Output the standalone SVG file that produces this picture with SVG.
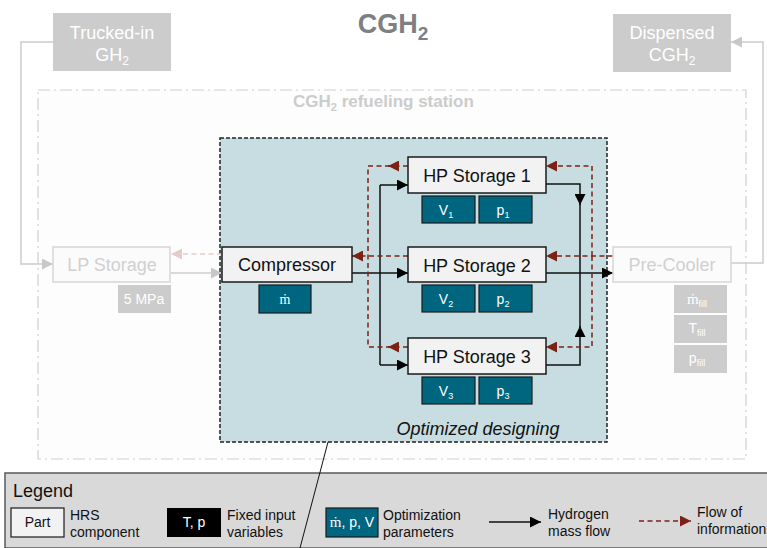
<svg xmlns="http://www.w3.org/2000/svg" width="767" height="548" viewBox="0 0 767 548">
  <style>
    text { font-family: "Liberation Sans", Arial, sans-serif; }
    .ext { fill: #cccccc; }
    .ext-t { fill: #ffffff; font-size: 18px; text-anchor: middle; }
    .ghost { fill: #fbfbfb; stroke: #d6d6d6; stroke-width: 1.5; }
    .ghost-t { fill: #d0d0d0; font-size: 18px; text-anchor: middle; }
    .part { fill: #f2f2f2; stroke: #1a1a1a; stroke-width: 1.5; }
    .part-t { fill: #111111; font-size: 18px; text-anchor: middle; }
    .opt { fill: #00667f; stroke: #1a1a1a; stroke-width: 1.2; }
    .opt-t { fill: #ffffff; font-size: 14px; text-anchor: middle; }
    .fix { fill: #cccccc; }
    .fix-t { fill: #ffffff; font-size: 14px; text-anchor: middle; }
    .mdot { font-family: "Liberation Serif", "Times New Roman", serif; }
    .flow { fill: none; stroke: #111111; stroke-width: 1.5; }
    .info { fill: none; stroke: #7b2215; stroke-width: 1.5; stroke-dasharray: 5 3.5; }
    .gray { fill: none; stroke: #cccccc; stroke-width: 1.5; }
    .pink { fill: none; stroke: #e3cdc9; stroke-width: 1.5; stroke-dasharray: 5 3.5; }
    .leg-t { fill: #111111; font-size: 14px; }
  </style>
  <defs>
    <marker id="ah-black" markerUnits="userSpaceOnUse" markerWidth="11" markerHeight="11" refX="11" refY="5.5" orient="auto">
      <path d="M0,0 L11,5.5 L0,11 z" fill="#000000"/>
    </marker>
    <marker id="ah-red" markerUnits="userSpaceOnUse" markerWidth="11" markerHeight="11" refX="11" refY="5.5" orient="auto">
      <path d="M0,0 L11,5.5 L0,11 z" fill="#7b2215"/>
    </marker>
    <marker id="ah-gray" markerUnits="userSpaceOnUse" markerWidth="11" markerHeight="11" refX="11" refY="5.5" orient="auto">
      <path d="M0,0 L11,5.5 L0,11 z" fill="#c8c8c8"/>
    </marker>
    <marker id="ah-pink" markerUnits="userSpaceOnUse" markerWidth="11" markerHeight="11" refX="11" refY="5.5" orient="auto">
      <path d="M0,0 L11,5.5 L0,11 z" fill="#e3cdc9"/>
    </marker>
  </defs>

  <rect x="0" y="0" width="767" height="548" fill="#ffffff"/>

  <!-- title -->
  <text x="393" y="33" font-size="27" font-weight="bold" fill="#7f7f7f" text-anchor="middle">CGH<tspan font-size="19" dy="7">2</tspan></text>

  <!-- refueling station boundary -->
  <g id="station">
    <rect x="38" y="90" width="708" height="369" fill="#fdfdfd" stroke="#cfcfcf" stroke-width="1.2" stroke-dasharray="12 4 2 4"/>
    <text x="293" y="107" font-size="17" font-weight="bold" fill="#cccccc">CGH<tspan font-size="11" dy="4">2</tspan><tspan dy="-4"> refueling station</tspan></text>
  </g>

  <!-- optimization scope -->
  <g id="optimized-scope">
    <rect x="220" y="138" width="387" height="304" fill="#c8dde2" stroke="#222222" stroke-width="1.5" stroke-dasharray="4 2"/>
    <text x="478" y="435" font-size="18" font-style="italic" fill="#111111" text-anchor="middle">Optimized designing</text>
  </g>

  <!-- connectors -->
  <g id="connectors">
    <!-- gray supply/dispense lines -->
    <path class="gray" d="M53,42 H21 V264 H53" marker-end="url(#ah-gray)"/>
    <path class="gray" d="M731,263 H763 V42 H731" marker-end="url(#ah-gray)"/>
    <path class="gray" d="M171,273 H222" marker-end="url(#ah-gray)"/>
    <path class="pink" d="M222,254 H171" marker-end="url(#ah-pink)"/>

    <!-- hydrogen mass flow -->
    <path class="flow" d="M352,273 H408" marker-end="url(#ah-black)"/>
    <path class="flow" d="M380,273 V185"/>
    <path class="flow" d="M380,273 V365"/>
    <path class="flow" d="M380,185 H408" marker-end="url(#ah-black)"/>
    <path class="flow" d="M380,365 H408" marker-end="url(#ah-black)"/>
    <path class="flow" d="M546,184 H580 V205" marker-end="url(#ah-black)"/>
    <path class="flow" d="M580,200 V273"/>
    <path class="flow" d="M546,365 H580 V326" marker-end="url(#ah-black)"/>
    <path class="flow" d="M580,330 V273"/>
    <path class="flow" d="M546,273 H613" marker-end="url(#ah-black)"/>

    <!-- information flow -->
    <path class="info" d="M613,256 H546" marker-end="url(#ah-red)"/>
    <path class="info" d="M592,256 V166 H546" marker-end="url(#ah-red)"/>
    <path class="info" d="M592,256 V347 H546" marker-end="url(#ah-red)"/>
    <path class="info" d="M408,256 H352" marker-end="url(#ah-red)"/>
    <path class="info" d="M408,166 H388" marker-end="url(#ah-red)"/>
    <path class="info" d="M390,166 H368 V347 H390"/>
    <path class="info" d="M408,347 H388" marker-end="url(#ah-red)"/>
  </g>

  <!-- external boxes -->
  <g id="trucked-in">
    <rect class="ext" x="53" y="13" width="118" height="58"/>
    <text class="ext-t" x="112" y="39">Trucked-in</text>
    <text class="ext-t" x="112" y="61">GH<tspan font-size="12" dy="4">2</tspan></text>
  </g>
  <g id="dispensed">
    <rect class="ext" x="613" y="14" width="118" height="58"/>
    <text class="ext-t" x="672" y="39">Dispensed</text>
    <text class="ext-t" x="672" y="61">CGH<tspan font-size="12" dy="4">2</tspan></text>
  </g>

  <!-- LP storage -->
  <g id="lp-storage">
    <rect class="ghost" x="53" y="247" width="117" height="35"/>
    <text class="ghost-t" x="112" y="271">LP Storage</text>
    <rect class="fix" x="118" y="285" width="53" height="28"/>
    <text class="fix-t" x="144" y="304">5 MPa</text>
  </g>

  <!-- compressor -->
  <g id="compressor">
    <rect class="part" x="222" y="247" width="130" height="35"/>
    <text class="part-t" x="287" y="271">Compressor</text>
    <rect class="opt" x="259" y="285" width="52" height="28"/>
    <text class="opt-t mdot" x="285" y="304" font-size="15">ṁ</text>
  </g>

  <!-- high-pressure storages -->
  <g id="hp-storage-1">
    <rect class="part" x="408" y="157" width="138" height="36"/>
    <text class="part-t" x="477" y="182">HP Storage 1</text>
    <rect class="opt" x="422" y="196" width="53" height="27"/>
    <text class="opt-t" x="446" y="215">V<tspan font-size="9" dy="3">1</tspan></text>
    <rect class="opt" x="479" y="196" width="53" height="27"/>
    <text class="opt-t" x="503" y="215">p<tspan font-size="9" dy="3">1</tspan></text>
  </g>
  <g id="hp-storage-2">
    <rect class="part" x="408" y="247" width="138" height="35"/>
    <text class="part-t" x="477" y="272">HP Storage 2</text>
    <rect class="opt" x="422" y="285" width="53" height="27"/>
    <text class="opt-t" x="446" y="304">V<tspan font-size="9" dy="3">2</tspan></text>
    <rect class="opt" x="479" y="285" width="53" height="27"/>
    <text class="opt-t" x="503" y="304">p<tspan font-size="9" dy="3">2</tspan></text>
  </g>
  <g id="hp-storage-3">
    <rect class="part" x="408" y="338" width="138" height="36"/>
    <text class="part-t" x="477" y="363">HP Storage 3</text>
    <rect class="opt" x="422" y="377" width="53" height="27"/>
    <text class="opt-t" x="446" y="396">V<tspan font-size="9" dy="3">3</tspan></text>
    <rect class="opt" x="479" y="377" width="53" height="27"/>
    <text class="opt-t" x="503" y="396">p<tspan font-size="9" dy="3">3</tspan></text>
  </g>

  <!-- pre-cooler -->
  <g id="pre-cooler">
    <rect class="ghost" x="613" y="247" width="118" height="35"/>
    <text class="ghost-t" x="672" y="271">Pre-Cooler</text>
    <rect class="fix" x="674" y="285" width="53" height="28"/>
    <text class="fix-t" x="697" y="304"><tspan class="mdot" font-size="15">ṁ</tspan><tspan font-size="9" dy="3">fill</tspan></text>
    <rect class="fix" x="674" y="315" width="53" height="28"/>
    <text class="fix-t" x="697" y="333">T<tspan font-size="9" dy="3">fill</tspan></text>
    <rect class="fix" x="674" y="345" width="53" height="28"/>
    <text class="fix-t" x="697" y="363">p<tspan font-size="9" dy="3">fill</tspan></text>
  </g>

  <!-- legend -->
  <g id="legend">
    <rect x="5" y="473" width="770" height="75" fill="#d9d9d9" stroke="#595959" stroke-width="1.5"/>
    <text x="13" y="497" font-size="18" fill="#111111">Legend</text>
    <rect x="11" y="508" width="53" height="29" fill="#f2f2f2" stroke="#1a1a1a" stroke-width="1.2"/>
    <text x="37.5" y="527" font-size="14" fill="#111111" text-anchor="middle">Part</text>
    <text class="leg-t" x="70" y="520">HRS</text>
    <text class="leg-t" x="70" y="537">component</text>
    <rect x="167" y="508" width="54" height="29" fill="#000000"/>
    <text x="194" y="527" font-size="14" fill="#ffffff" text-anchor="middle">T, p</text>
    <text class="leg-t" x="227" y="520">Fixed input</text>
    <text class="leg-t" x="227" y="537">variables</text>
    <rect x="326" y="508" width="52" height="29" fill="#00667f" stroke="#1a1a1a" stroke-width="1.2"/>
    <text x="352" y="527" font-size="14" fill="#ffffff" text-anchor="middle"><tspan class="mdot" font-size="15">ṁ</tspan>, p, V</text>
    <text class="leg-t" x="383" y="520">Optimization</text>
    <text class="leg-t" x="383" y="537">parameters</text>
    <path class="flow" d="M489,522 H541" marker-end="url(#ah-black)"/>
    <text class="leg-t" x="548" y="519">Hydrogen</text>
    <text class="leg-t" x="548" y="536">mass flow</text>
    <path class="info" d="M639,521 H691" marker-end="url(#ah-red)"/>
    <text class="leg-t" x="697" y="517">Flow of</text>
    <text class="leg-t" x="697" y="534">information</text>
  </g>

  <!-- callout line from scope to legend -->
  <line x1="328" y1="442" x2="300" y2="548" stroke="#111111" stroke-width="1"/>
</svg>
